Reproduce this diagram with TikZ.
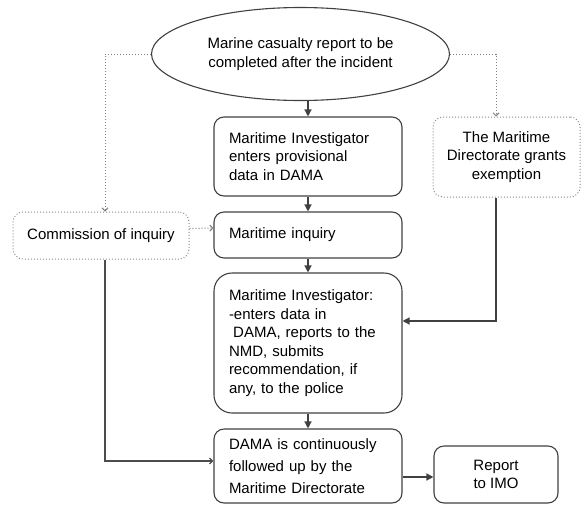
\documentclass[tikz,border=0pt]{standalone}
\usepackage{fontspec}
\setmainfont{Liberation Sans}
\usepackage{tikz}
\usetikzlibrary{shapes.geometric,arrows.meta}

\begin{document}
\begin{tikzpicture}[x=1pt,y=-1pt,draw=black!75,line width=1.1pt,font=\fontsize{15}{18.5}\selectfont]
    \tikzstyle{flow}=[-{Triangle[length=7pt,width=7pt]},draw=black!75,line width=1.3pt]
    \tikzstyle{thin flow}=[-{Straight Barb[length=3pt,width=6pt]},draw=black!70,line width=1.3pt]
    \tikzstyle{side flow}=[-{Straight Barb[length=3pt,width=6pt]},draw=black!50,dotted,line width=1pt]
    \tikzstyle{stepbox}=[draw,rounded corners=10pt,text width=158pt,inner xsep=15pt,inner ysep=0pt,align=left]
    \tikzstyle{side box}=[draw=black!45,dotted,line width=1pt,rounded corners=10pt,align=center,inner sep=0pt]

    \useasboundingbox (0,0) rectangle (583,504);

    % Draw the report and the main chain of steps
    \node[ellipse,draw,minimum width=298pt,minimum height=93pt,inner sep=0pt,align=center] (report) at (300.5,54)
        {Marine casualty report to be\\completed after the incident};
    \node[stepbox,minimum height=79pt] (prov) at (308,156.5)
        {Maritime Investigator\\enters provisional\\data in DAMA};
    \node[stepbox,minimum height=46pt] (inquiry) at (308,235) {Maritime inquiry};
    \node[stepbox,minimum height=140pt,rounded corners=18pt] (enters) at (308,343)
        {Maritime Investigator:\\-enters data in\\\hspace*{.28em}DAMA, reports to the\\NMD, submits\\recommendation, if\\any, to the police};
    \node[stepbox,minimum height=74pt,font=\fontsize{15}{22}\selectfont] (dama) at (308,466)
        {DAMA is continuously\\followed up by the\\Maritime Directorate};
    \node[draw,rounded corners=10pt,minimum width=124pt,minimum height=57pt,inner sep=0pt,align=center] (imo) at (496,474.5)
        {Report\\to IMO};

    % Draw the side boxes
    \node[side box,minimum width=147pt,minimum height=80pt] (exempt) at (506.5,157)
        {The Maritime\\Directorate grants\\exemption};
    \node[side box,minimum width=176pt,minimum height=47pt] (commission) at (101,235.5) {Commission of inquiry};

    % Connect the main chain
    \draw[flow] (prov.north |- report.south) -- (prov.north);
    \draw[flow] (prov) -- (inquiry);
    \draw[flow] (inquiry) -- (enters);
    \draw[flow] (enters) -- (dama);
    \draw[flow] ([yshift=-11pt]dama.east) -- ([yshift=-2.5pt]imo.west);

    % Connect the side boxes
    \draw[side flow] (report.west) -| ([xshift=4pt]commission.north);
    \draw[side flow] (report.east) -| ([xshift=-10.5pt]exempt.north);
    \draw[side flow] ([yshift=7pt]commission.east) -- ([yshift=7pt]inquiry.west);
    \draw[thin flow] ([xshift=4pt]commission.south) |- ([yshift=5pt]dama.west);
    \draw[flow] ([xshift=-10.5pt]exempt.south) |- ([yshift=22pt]enters.east);

\end{tikzpicture}
\end{document}
